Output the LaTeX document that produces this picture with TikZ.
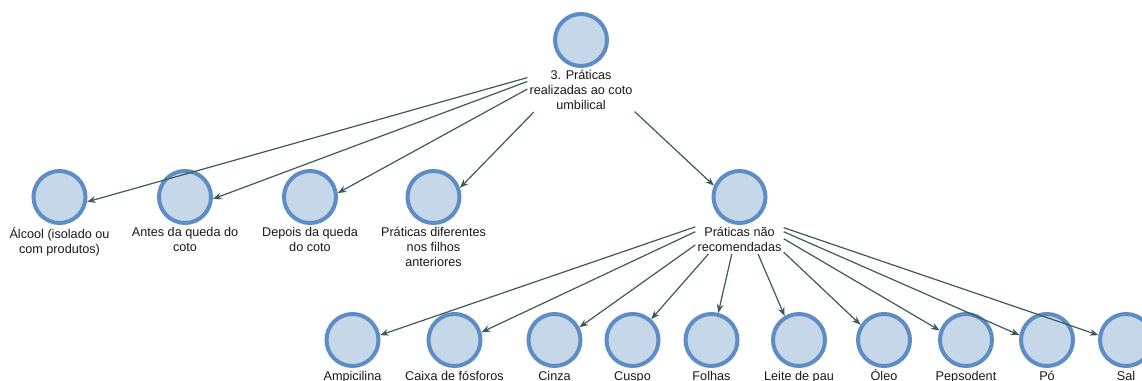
\documentclass[tikz,border=0pt]{standalone}
\usepackage{fontspec}
\setmainfont{Liberation Sans}
\usetikzlibrary{arrows.meta}
\definecolor{bolafundo}{HTML}{C6D7EA}
\definecolor{bolalinha}{HTML}{5E8CC4}
\definecolor{setacor}{HTML}{3B5B57}
\tikzset{
  bola/.style={circle, draw=bolalinha, fill=bolafundo, line width=3pt, minimum size=39pt, inner sep=0pt},
  rotulo/.style={anchor=north, align=center, inner sep=1.5pt, text=black!90, font=\fontsize{9.5}{11.25}\selectfont},
  liga/.style={draw=setacor, line width=0.9pt, -{Stealth[length=6.5pt,width=5pt]}}
}
\begin{document}
\begin{tikzpicture}[x=0.75pt,y=-0.75pt]
\useasboundingbox (0,0) rectangle (1142,381);
% raiz
\node[bola] (raiz) at (581,40) {};
\node[rotulo] (raizL) at (raiz.south) {3. Práticas\\realizadas ao coto\\umbilical};
% segundo nivel
\node[bola] (alcool) at (59.5,197) {};
\node[rotulo] (alcoolL) at (alcool.south) {Álcool (isolado ou\\com produtos)};
\node[bola] (antes) at (185,197) {};
\node[rotulo] (antesL) at (antes.south) {Antes da queda do\\coto};
\node[bola] (depois) at (310,197) {};
\node[rotulo] (depoisL) at (depois.south) {Depois da queda\\do coto};
\node[bola] (difer) at (433.5,197) {};
\node[rotulo] (diferL) at (difer.south) {Práticas diferentes\\nos filhos\\anteriores};
\node[bola] (nao) at (739.5,197) {};
\node[rotulo] (naoL) at (nao.south) {Práticas não\\recomendadas};
% terceiro nivel
\foreach \x/\n/\t in {352.5/amp/Ampicilina, 454.5/caixa/Caixa de fósforos, 554.5/cinza/Cinza,
  632.5/cuspo/Cuspo, 711.5/folhas/Folhas, 799/leite/Leite de pau, 884/oleo/Óleo,
  966/peps/Pepsodent, 1047/po/Pó, 1126/sal/Sal} {
  \node[bola] (\n) at (\x,340) {};
  \node[rotulo, anchor=base] (\n L) at (\x,380) {\t};
}
% ligacoes
\draw[liga] (raizL.167) -- (alcool.-10);
\draw[liga] (raizL.171) -- (antes.-4);
\draw[liga] (raizL.179) -- (depois.8);
\draw[liga] (raizL.205) -- (difer.19);
\draw[liga] (raizL.338) -- (nao.156);
\foreach \n/\a/\b in {amp/164/10, caixa/170.5/16, cinza/187/27, cuspo/205/48, folhas/242/76,
  leite/322/121, oleo/344/147, peps/1/160, po/10.5/170, sal/15.6/170}
  \draw[liga] (naoL.\a) -- (\n.\b);
\end{tikzpicture}
\end{document}
